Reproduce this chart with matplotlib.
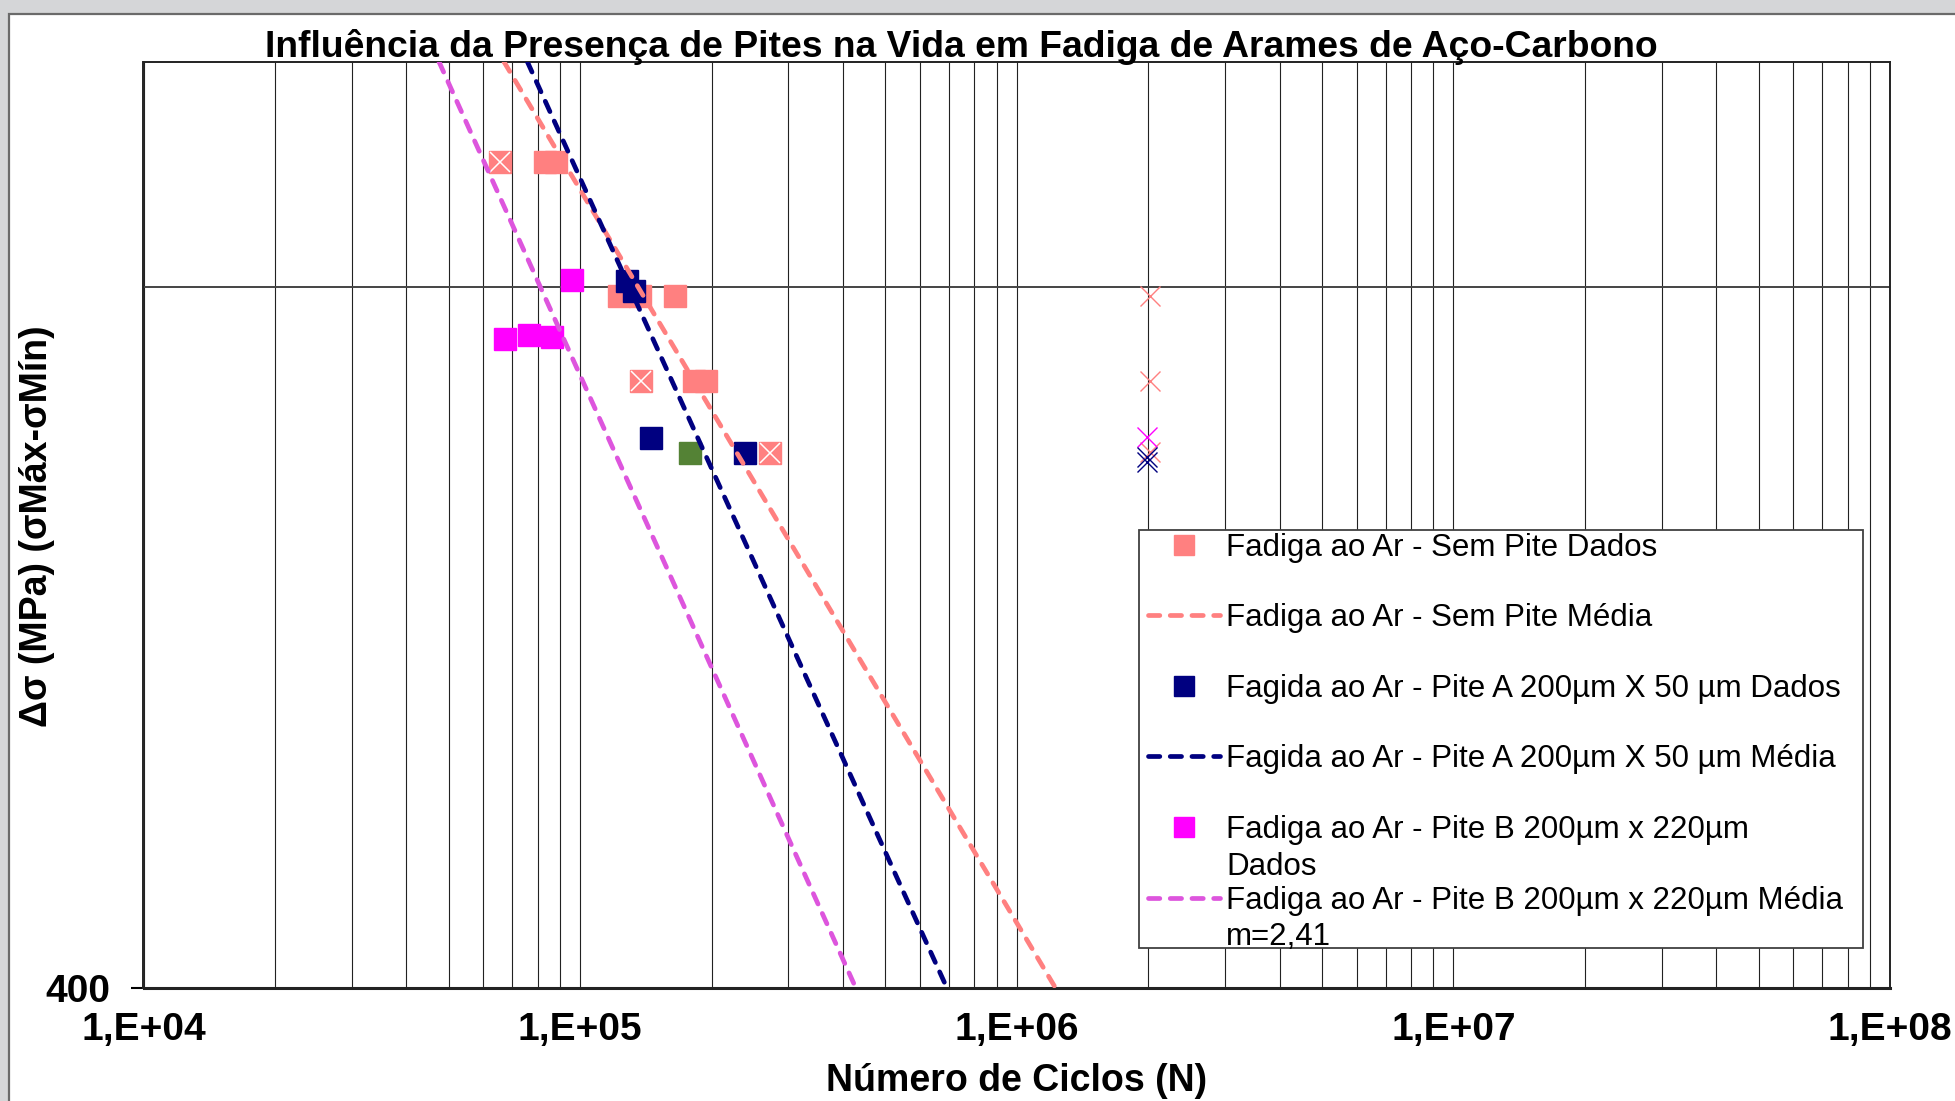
import matplotlib
matplotlib.use("Agg")
import matplotlib.pyplot as plt
from matplotlib.patches import Rectangle
from matplotlib.ticker import FixedLocator, LogLocator, NullLocator, NullFormatter

plt.rcParams['font.family'] = ['Liberation Sans', 'DejaVu Sans']

# ---------------- data ----------------
title = "Influência da Presença de Pites na Vida em Fadiga de Arames de Aço-Carbono"
xlabel = "Número de Ciclos (N)"
ylabel = "Δσ (MPa) (σMáx-σMín)"

xtick_values = [1e4, 1e5, 1e6, 1e7, 1e8]
xtick_labels = ["1,E+04", "1,E+05", "1,E+06", "1,E+07", "1,E+08"]
ytick_values = [400, 800]
ytick_labels = ["400", ""]

# Fadiga ao Ar - Sem Pite (dados)
sem_pite_N = [6.57e4, 8.32e4, 8.82e4, 1.228e5, 1.372e5, 1.647e5, 1.379e5, 1.826e5, 1.939e5, 2.727e5]
sem_pite_S = [905.5, 905.5, 905.5, 793.1, 793.1, 793.1, 729.5, 729.5, 729.5, 679.3]
# points of the Sem Pite set marked with a white cross
cross_N = [6.57e4, 1.379e5, 2.727e5]
cross_S = [905.5, 729.5, 679.3]
# Pite A (dados)
pite_a_N = [1.279e5, 1.327e5, 1.455e5, 2.380e5]
pite_a_S = [804.6, 796.8, 689.4, 679.3]
# Pite B (dados)
pite_b_N = [9.57e4, 6.73e4, 7.63e4, 8.61e4]
pite_b_S = [805.5, 760.3, 763.2, 761.4]
# extra (green) point
extra_N = [1.781e5]
extra_S = [679.3]
# run-outs at 2E6 cycles
runout_sem_N = [2.02e6, 2.02e6, 2.02e6]
runout_sem_S = [793.1, 729.5, 680.0]
runout_a_N = [1.99e6, 1.99e6]
runout_a_S = [676.6, 673.2]
runout_b_N = [1.99e6]
runout_b_S = [690.0]
# mean curves (end points)
mean_sem_N = [6.69e4, 1.227e6]
mean_sem_S = [1000, 400]
mean_a_N = [7.57e4, 6.92e5]
mean_a_S = [1000, 400]
mean_b_N = [4.75e4, 4.28e5]
mean_b_S = [1000, 400]

labels = [
    "Fadiga ao Ar - Sem Pite Dados",
    "Fadiga ao Ar - Sem Pite Média",
    "Fagida ao Ar - Pite A 200µm X 50 µm Dados",
    "Fagida ao Ar - Pite A 200µm X 50 µm Média",
    "Fadiga ao Ar - Pite B 200µm x 220µm",
    "Fadiga ao Ar - Pite B 200µm x 220µm Média",
]
second_lines = {4: "Dados", 5: "m=2,41"}

# ---------------- colours ----------------
c_sem = "#FF8080"
c_a = "#000080"
c_b = "#FF00FF"
c_b_line = "#DD55DD"
c_extra = "#548235"

W, H = 1956, 1101
fig = plt.figure(figsize=(W / 100, H / 100), dpi=100, facecolor="#d5d6d8")
fig.add_artist(Rectangle((9 / W, -0.05), 1.1, (H - 13.5) / H + 0.05, transform=fig.transFigure,
                         facecolor="white", edgecolor="#6a6a6a", lw=1.6, zorder=0))

ax = fig.add_axes([143.5 / W, (H - 988) / H, (1890 - 143.5) / W, (988 - 61.7) / H])
ax.set_facecolor("white")
ax.set_xscale("log")
ax.set_yscale("log")
ax.set_xlim(1e4, 1e8)
ax.set_ylim(400, 1000)

ms = 15.8
dash = (2.4, 2.2)
lw = 3.4

# data markers
h1, = ax.plot(sem_pite_N, sem_pite_S, ls="none", marker="s", ms=ms, color=c_sem, mec=c_sem, zorder=3)
ax.plot(cross_N, cross_S, ls="none", marker="x", ms=ms - 1, mew=1.1, color="white", zorder=3.1)
h3, = ax.plot(pite_a_N, pite_a_S, ls="none", marker="s", ms=ms, color=c_a, mec=c_a, zorder=3.2)
h5, = ax.plot(pite_b_N, pite_b_S, ls="none", marker="s", ms=ms, color=c_b, mec=c_b, zorder=3)
ax.plot(extra_N, extra_S, ls="none", marker="s", ms=ms, color=c_extra, mec=c_extra, zorder=3)

# run-outs
ax.plot(runout_sem_N, runout_sem_S, ls="none", marker="x", ms=15, mew=1.0, color=c_sem, zorder=3)
ax.plot(runout_b_N, runout_b_S, ls="none", marker="x", ms=15, mew=1.0, color=c_b, zorder=3)
ax.plot(runout_a_N, runout_a_S, ls="none", marker="x", ms=15, mew=1.0, color=c_a, zorder=3)

# mean curves
h2, = ax.plot(mean_sem_N, mean_sem_S, color=c_sem, lw=lw, dashes=dash, dash_capstyle="round", zorder=4)
h4, = ax.plot(mean_a_N, mean_a_S, color=c_a, lw=lw, dashes=dash, dash_capstyle="round", zorder=4)
h6, = ax.plot(mean_b_N, mean_b_S, color=c_b_line, lw=lw, dashes=dash, dash_capstyle="round", zorder=4)

# axes, ticks and grid
ax.xaxis.set_major_locator(FixedLocator(xtick_values))
ax.xaxis.set_minor_locator(LogLocator(base=10, subs=[2, 3, 4, 5, 6, 7, 8, 9]))
ax.xaxis.set_minor_formatter(NullFormatter())
ax.set_xticks(xtick_values)
ax.set_xticklabels(xtick_labels, fontsize=28, fontweight="bold")
ax.yaxis.set_major_locator(FixedLocator(ytick_values))
ax.yaxis.set_minor_locator(NullLocator())
ax.set_yticks(ytick_values)
ax.set_yticklabels(ytick_labels, fontsize=28, fontweight="bold")
ax.tick_params(axis="x", which="both", length=0, pad=17.5)
ax.tick_params(axis="y", which="major", length=8.6, width=1.5, direction="out", pad=15)
ax.yaxis.get_major_ticks()[1].tick1line.set_visible(False)
ax.set_axisbelow(True)
ax.grid(True, which="both", axis="x", color="#222222", lw=0.8)
ax.grid(True, which="major", axis="y", color="#444444", lw=1.4)
for s in ax.spines.values():
    s.set_color("#222222")
    s.set_linewidth(1.4)
ax.spines["bottom"].set_linewidth(2.2)

# legend frame
ax.add_patch(Rectangle((0.570, 0.0432), 0.4145, 0.4512, transform=ax.transAxes,
                       facecolor="white", edgecolor="#404040", lw=1.3, zorder=6))
leg = ax.legend([h1, h2, h3, h4, h5, h6], labels, loc="upper left",
                bbox_to_anchor=(0.5751, 0.4917), frameon=False, fontsize=22.5,
                borderpad=0, borderaxespad=0, handlelength=2.3, handletextpad=0.2,
                labelspacing=1.30, markerscale=0.87, numpoints=1)
leg.set_zorder(7)
fig.canvas.draw()
for i, txt in second_lines.items():
    ax.annotate(txt, xy=(0, 0), xycoords=leg.get_texts()[i], xytext=(0, -26.3),
                textcoords="offset points", ha="left", va="bottom", fontsize=22.5, zorder=8)

# titles
fig.text(961 / W, (H - 57) / H, title, ha="center", va="baseline", fontsize=26.8, fontweight="bold")
fig.text(1017 / W, (H - 1091) / H, xlabel, ha="center", va="baseline", fontsize=27, fontweight="bold")
fig.text(37 / W, (H - 526) / H, ylabel, ha="center", va="center", rotation=90, fontsize=27, fontweight="bold")

fig.savefig("out.png", dpi=100, facecolor=fig.get_facecolor())
